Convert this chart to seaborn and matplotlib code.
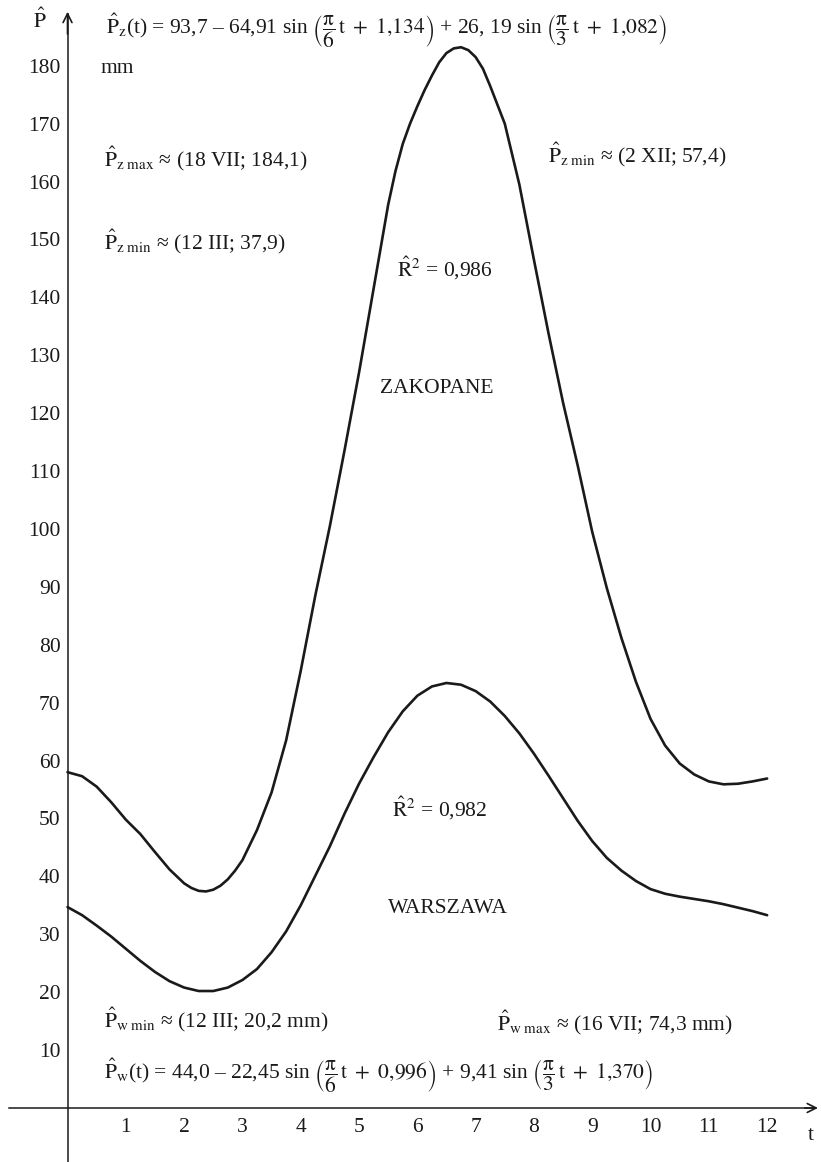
import matplotlib
matplotlib.use("Agg")
import matplotlib.pyplot as plt
import pandas as pd
import seaborn as sns

# month index t and monthly precipitation, mm
t_z = [0, 0.25, 0.5, 0.75, 1.0, 1.25, 1.5, 1.75, 2.0, 2.125, 2.25, 2.375, 2.5, 2.625, 2.75, 2.875,
       3.0, 3.25, 3.5, 3.75, 4.0, 4.25, 4.5, 4.75, 5.0, 5.25, 5.5, 5.625, 5.75, 5.875,
       6.0, 6.125, 6.25, 6.375, 6.5, 6.625, 6.75, 6.875, 7.0, 7.125, 7.25, 7.5, 7.75,
       8.0, 8.25, 8.5, 8.75, 9.0, 9.25, 9.5, 9.75, 10.0, 10.25, 10.5, 10.75,
       11.0, 11.25, 11.5, 11.75, 12.0]
zakopane = [58.0, 57.3, 55.5, 52.8, 49.8, 47.3, 44.2, 41.2, 38.8, 38.0, 37.5, 37.4, 37.7, 38.4, 39.5, 41.0,
            42.8, 48.0, 54.5, 63.5, 75.5, 88.5, 100.5, 113.5, 127.0, 141.5, 156.0, 161.8, 166.5, 170.0,
            173.0, 175.8, 178.3, 180.6, 182.2, 183.0, 183.2, 182.7, 181.5, 179.5, 176.5, 170.0, 159.5,
            146.5, 133.8, 121.8, 111.0, 99.5, 89.8, 81.2, 73.6, 67.2, 62.6, 59.5, 57.6,
            56.4, 55.9, 56.0, 56.4, 56.9]

t_w = [0, 0.25, 0.5, 0.75, 1.0, 1.25, 1.5, 1.75, 2.0, 2.25, 2.5, 2.75,
       3.0, 3.25, 3.5, 3.75, 4.0, 4.25, 4.5, 4.75, 5.0, 5.25, 5.5, 5.75,
       6.0, 6.25, 6.5, 6.75, 7.0, 7.25, 7.5, 7.75, 8.0, 8.25, 8.5, 8.75,
       9.0, 9.25, 9.5, 9.75, 10.0, 10.25, 10.5, 10.75, 11.0, 11.25, 11.5, 11.75, 12.0]
warszawa = [34.7, 33.3, 31.5, 29.6, 27.5, 25.4, 23.5, 21.9, 20.8, 20.2, 20.2, 20.8,
            22.1, 24.0, 26.9, 30.5, 35.0, 40.1, 45.2, 50.8, 56.0, 60.6, 64.9, 68.5,
            71.2, 72.8, 73.4, 73.1, 72.0, 70.2, 67.7, 64.7, 61.2, 57.4, 53.5, 49.6,
            46.1, 43.2, 41.0, 39.2, 37.8, 37.0, 36.5, 36.1, 35.7, 35.2, 34.6, 34.0, 33.3]

x_ticks = list(range(1, 13))
y_ticks = list(range(10, 190, 10))

sns.set_theme(style="white")
plt.rcParams["font.family"] = ["Liberation Serif", "DejaVu Serif"]
plt.rcParams["mathtext.fontset"] = "stix"

ink = "#1a1a1a"

df = pd.concat([
    pd.DataFrame({"t": t_z, "P": zakopane, "miasto": "ZAKOPANE"}),
    pd.DataFrame({"t": t_w, "P": warszawa, "miasto": "WARSZAWA"}),
])

fig = plt.figure(figsize=(8.21, 11.62), dpi=100)
ax = fig.add_axes([0, 0, 1, 1])
sns.lineplot(data=df, x="t", y="P", hue="miasto",
             palette={"ZAKOPANE": ink, "WARSZAWA": ink},
             legend=False, lw=1.9, ax=ax)
for ln in ax.lines:
    ln.set_solid_joinstyle("round")

ax.set_xlim(-1.158, 12.924)
ax.set_ylim(-9.33, 191.36)
ax.set_xlabel("")
ax.set_ylabel("")

for s in ["top", "right"]:
    ax.spines[s].set_visible(False)
for s in ["left", "bottom"]:
    ax.spines[s].set_position(("data", 0))
    ax.spines[s].set_color(ink)
    ax.spines[s].set_linewidth(1.1)
ax.spines["left"].set_bounds(-9.33, 189)
ax.spines["bottom"].set_bounds(-1.0, 12.8)

# arrow heads
ax.annotate("", xy=(0, 189.8), xytext=(0, 185),
            arrowprops=dict(arrowstyle="->", lw=1.2, color=ink, mutation_scale=16))
ax.annotate("", xy=(12.92, 0), xytext=(12.6, 0),
            arrowprops=dict(arrowstyle="->", lw=1.2, color=ink, mutation_scale=16))

ax.set_xticks(x_ticks)
ax.set_yticks(y_ticks)
ax.tick_params(axis="y", direction="in", length=8.5, width=1.1, pad=5,
               labelsize=15.5, colors=ink)
ax.tick_params(axis="x", direction="in", length=7, width=1.1, pad=7,
               labelsize=15.5, colors=ink)


def px(x, y):
    return x / 821, 1 - y / 1162


fs = 15.5
txt = dict(ha="left", va="baseline", fontsize=fs, color=ink)

fig.text(*px(33, 28), r"$\hat{\mathrm{P}}$", **txt)
fig.text(*px(808, 1140), "t", **txt)
fig.text(*px(100, 73), "mm", **txt)

fig.text(*px(106, 33),
         r"$\hat{\mathrm{P}}_\mathrm{z}$(t) = 93,7 – 64,91 sin "
         r"$\left(\dfrac{\mathrm{\pi}}{6}\,\mathrm{t}\ +\ 1{,}134\right)$ + 26, 19 sin "
         r"$\left(\dfrac{\mathrm{\pi}}{3}\,\mathrm{t}\ +\ 1{,}082\right)$", **txt)
fig.text(*px(104, 166), r"$\hat{\mathrm{P}}_\mathrm{z\ max}$ ≈ (18 VII; 184,1)", **txt)
fig.text(*px(104, 249), r"$\hat{\mathrm{P}}_\mathrm{z\ min}$ ≈ (12 III; 37,9)", **txt)
fig.text(*px(548, 162), r"$\hat{\mathrm{P}}_\mathrm{z\ min}$ ≈ (2 XII; 57,4)", **txt)
fig.text(*px(397, 277), r"$\hat{\mathrm{R}}^2$ = 0,986", **txt)
fig.text(*px(380, 393), "ZAKOPANE", **txt)
fig.text(*px(392, 817), r"$\hat{\mathrm{R}}^2$ = 0,982", **txt)
fig.text(*px(388, 913), "WARSZAWA", **txt)
fig.text(*px(104, 1027), r"$\hat{\mathrm{P}}_\mathrm{w\ min}$ ≈ (12 III; 20,2 mm)", **txt)
fig.text(*px(497, 1030), r"$\hat{\mathrm{P}}_\mathrm{w\ max}$ ≈ (16 VII; 74,3 mm)", **txt)
fig.text(*px(104, 1078),
         r"$\hat{\mathrm{P}}_\mathrm{w}$(t) = 44,0 – 22,45 sin "
         r"$\left(\dfrac{\mathrm{\pi}}{6}\,\mathrm{t}\ +\ 0{,}996\right)$ + 9,41 sin "
         r"$\left(\dfrac{\mathrm{\pi}}{3}\,\mathrm{t}\ +\ 1{,}370\right)$", **txt)

fig.savefig("out.png", dpi=100, facecolor="white")
